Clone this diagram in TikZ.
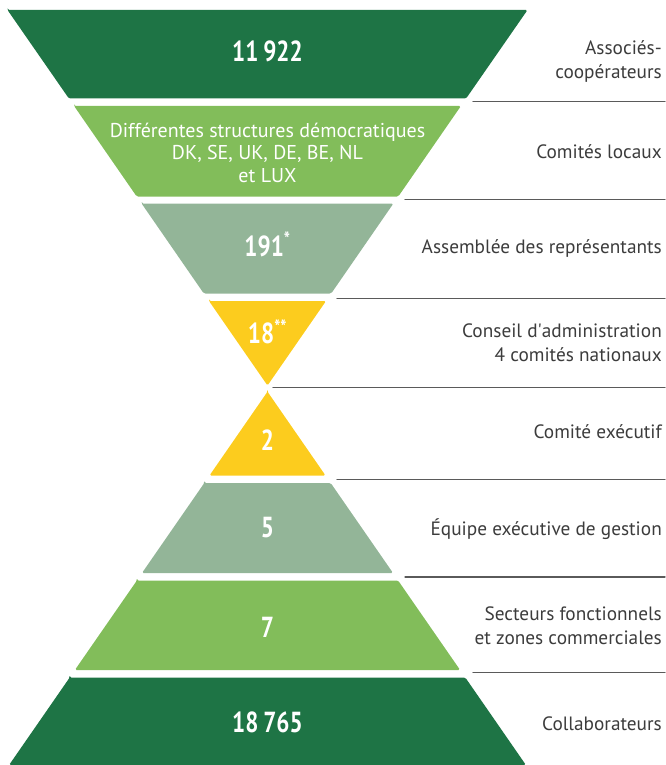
\documentclass[tikz,border=0pt]{standalone}
\usepackage{fontspec}
\setmainfont{PT Sans}
\newfontfamily\numfont[FakeStretch=0.8]{PT Sans}
\usepackage{tkz-euclide}
\definecolor{darkgreen}{HTML}{1E7445}
\definecolor{lightgreen}{HTML}{82BD5A}
\definecolor{sage}{HTML}{93B598}
\definecolor{gold}{HTML}{FCCC1E}
\definecolor{labelgray}{HTML}{3C3C3C}
\definecolor{rulegray}{HTML}{5A5A5A}

\begin{document}
\begin{tikzpicture}[x=1pt,y=-1pt,
    band/.style={rounded corners=1.5pt},
    bandnum/.style={anchor=base,inner sep=0pt,text=white,font=\numfont\bfseries\fontsize{29}{29}\selectfont},
    bandtext/.style={align=center,inner sep=0pt,text=white,font=\fontsize{20}{22.5}\selectfont},
    info/.style={anchor=east,align=right,inner sep=0pt,text=labelgray,font=\fontsize{19.3}{24}\selectfont},
    divider/.style={draw=rulegray,line width=1.3pt}]
    \useasboundingbox (0,0) rectangle (665,765);
    % upper funnel
    \tkzDefPoint(7.5,10){U1}    \tkzDefPoint(527.5,10){V1}
    \tkzDefPoint(466.1,98.5){W1} \tkzDefPoint(68.9,98.5){Z1}
    \tkzDefPoint(74.1,106){U2}   \tkzDefPoint(460.9,106){V2}
    \tkzDefPoint(398.3,196.5){W2} \tkzDefPoint(136.7,196.5){Z2}
    \tkzDefPoint(141.6,203.5){U3} \tkzDefPoint(393.4,203.5){V3}
    \tkzDefPoint(331.2,293.5){W3} \tkzDefPoint(203.8,293.5){Z3}
    \tkzDefPoint(209,301){U4}     \tkzDefPoint(326,301){V4}
    \tkzDefPoint(267.5,385.5){W4}
    % lower funnel
    \tkzDefPoint(267.5,391.7){U5}
    \tkzDefPoint(325.5,475.5){W5} \tkzDefPoint(209.5,475.5){Z5}
    \tkzDefPoint(204.3,483){U6}   \tkzDefPoint(330.7,483){V6}
    \tkzDefPoint(393,573){W6}     \tkzDefPoint(142,573){Z6}
    \tkzDefPoint(136.9,580.5){U7} \tkzDefPoint(398.1,580.5){V7}
    \tkzDefPoint(460.1,670){W7}   \tkzDefPoint(74.9,670){Z7}
    \tkzDefPoint(69.7,677.5){U8}  \tkzDefPoint(465.3,677.5){V8}
    \tkzDefPoint(525.9,765){W8}   \tkzDefPoint(9.1,765){Z8}
    \tkzFillPolygon[fill=darkgreen,band](U1,V1,W1,Z1)
    \tkzFillPolygon[fill=lightgreen,band](U2,V2,W2,Z2)
    \tkzFillPolygon[fill=sage,band](U3,V3,W3,Z3)
    \tkzFillPolygon[fill=gold,band](U4,V4,W4)
    \tkzFillPolygon[fill=gold,band](U5,W5,Z5)
    \tkzFillPolygon[fill=sage,band](U6,V6,W6,Z6)
    \tkzFillPolygon[fill=lightgreen,band](U7,V7,W7,Z7)
    \tkzFillPolygon[fill=darkgreen,band](U8,V8,W8,Z8)
    % dividers
    \tkzDefPoint(473,101.7){r1} \tkzDefPoint(665,101.7){s1}
    \tkzDefPoint(405,199.5){r2} \tkzDefPoint(665,199.5){s2}
    \tkzDefPoint(337,298.3){r3} \tkzDefPoint(665,298.3){s3}
    \tkzDefPoint(273,387.7){r4} \tkzDefPoint(665,387.7){s4}
    \tkzDefPoint(337,479.3){r5} \tkzDefPoint(665,479.3){s5}
    \tkzDefPoint(405,577){r6}   \tkzDefPoint(665,577){s6}
    \tkzDefPoint(473,672.5){r7} \tkzDefPoint(665,672.5){s7}
    \tkzDrawSegments[divider](r1,s1 r2,s2 r3,s3 r4,s4 r5,s5 r6,s6 r7,s7)
    % counts
    \node[bandnum] (n1) at (267.5,62) {11\,922};
    \node[bandtext] (n2) at (267.5,152.5) {Différentes structures démocratiques\\DK, SE, UK, DE, BE, NL\\et LUX};
    \node[bandnum] (n3) at (267.5,256) {191\textsuperscript{*}};
    \node[bandnum] (n4) at (267.5,343.3) {18\textsuperscript{**}};
    \node[bandnum] (n5) at (267.5,450.7) {2};
    \node[bandnum] (n6) at (267.5,537) {5};
    \node[bandnum] (n7) at (267.5,637) {7};
    \node[bandnum] (n8) at (267.5,732) {18\,765};
    % labels
    \node[info] (l1) at (662,61) {Associés-\\coopérateurs};
    \node[info] (l2) at (662,152) {Comités locaux};
    \node[info] (l3) at (662,248) {Assemblée des représentants};
    \node[info] (l4) at (662,343) {Conseil d\textquotesingle administration\\4 comités nationaux};
    \node[info] (l5) at (662,432) {Comité exécutif};
    \node[info] (l6) at (662,529) {Équipe exécutive de gestion};
    \node[info] (l7) at (662,626) {Secteurs fonctionnels\\et zones commerciales};
    \node[info] (l8) at (662,724) {Collaborateurs};
\end{tikzpicture}
\end{document}
